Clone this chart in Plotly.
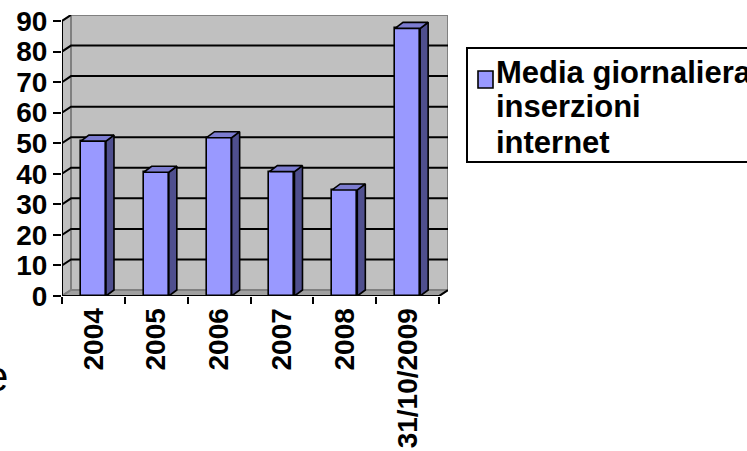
import plotly.graph_objects as go

# ---- data ----
categories = ["2004", "2005", "2006", "2007", "2008", "31/10/2009"]
values = [50.7, 40.5, 51.8, 40.7, 34.7, 87.6]
y_ticks = [0, 10, 20, 30, 40, 50, 60, 70, 80, 90]
legend_lines = ["Media giornaliera", "inserzioni", "internet"]

# ---- geometry / style (screen pixels) ----
W, H = 747, 451
L = 62                # front y-axis
FRONT_W = 377         # width of front plane
ZERO_Y = 296          # value 0 on front plane
TOP_Y = 21            # value 90 on front plane
DX, DY = 9, 6         # wall depth offset in px
BAR_DX, BAR_DY = 8, 6
YMAX = 90
n = len(categories)

px_cat = FRONT_W / n
px_val = (ZERO_Y - TOP_Y) / YMAX
dxu = DX / px_cat
dyu = DY / px_val
bdxu = BAR_DX / px_cat
bdyu = BAR_DY / px_val

x0, x1 = -0.5, n - 0.5
xr = [x0, x1 + dxu]
yr = [0, YMAX + dyu]
PW = FRONT_W + DX
T = TOP_Y - DY
B = H - ZERO_Y
R = W - L - PW
PH = ZERO_Y - T

def px_x(px):  # screen px -> paper
    return (px - L) / PW

def px_y(py):
    return (ZERO_Y - py) / PH

FRONT = "#9999FF"
SIDE = "#4F4F8E"
TOPC = "#7C7CD0"
WALL = "#C0C0C0"
FLOOR = "#A0A0A0"
EDGE = "#808080"
FONT = "Liberation Sans, Arial, sans-serif"

fig = go.Figure()
xs = list(range(n))
bw = 0.4

fig.add_trace(go.Bar(x=xs, y=values, width=bw, marker=dict(color=FRONT, line=dict(color="black", width=1.6)),
                     showlegend=False, hoverinfo="skip"))

# bar side and top faces
for i, v in enumerate(values):
    xl, xrt = i - bw / 2, i + bw / 2
    fig.add_trace(go.Scatter(x=[xrt, xrt + bdxu, xrt + bdxu, xrt, xrt], y=[0, bdyu, v + bdyu, v, 0],
                             fill="toself", fillcolor=SIDE, mode="lines",
                             line=dict(color="black", width=1.6), showlegend=False, hoverinfo="skip"))
    fig.add_trace(go.Scatter(x=[xl, xrt, xrt + bdxu, xl + bdxu, xl], y=[v, v, v + bdyu, v + bdyu, v],
                             fill="toself", fillcolor=TOPC, mode="lines",
                             line=dict(color="black", width=1.6), showlegend=False, hoverinfo="skip"))

shapes = []
# back wall
shapes.append(dict(type="rect", xref="x", yref="y", x0=x0 + dxu, x1=x1 + dxu, y0=dyu, y1=YMAX + dyu,
                   fillcolor=WALL, line=dict(color=EDGE, width=2), layer="below"))
# side wall
shapes.append(dict(type="path", xref="x", yref="y",
                   path=f"M{x0},0 L{x0},{YMAX} L{x0+dxu},{YMAX+dyu} L{x0+dxu},{dyu} Z",
                   fillcolor=WALL, line=dict(color=EDGE, width=2), layer="below"))
# floor
shapes.append(dict(type="path", xref="x", yref="y",
                   path=f"M{x0},0 L{x1},0 L{x1+dxu},{dyu} L{x0+dxu},{dyu} Z",
                   fillcolor=FLOOR, line=dict(color=EDGE, width=2), layer="below"))
# gridlines
for t in y_ticks[1:-1]:
    shapes.append(dict(type="path", xref="x", yref="y",
                       path=f"M{x0},{t} L{x0+dxu},{t+dyu} L{x1+dxu},{t+dyu}",
                       line=dict(color="black", width=2), layer="below"))
shapes.append(dict(type="line", xref="x", yref="y", x0=x0, y0=YMAX, x1=x0 + dxu, y1=YMAX + dyu,
                   line=dict(color="black", width=2), layer="below"))
# axis lines
shapes.append(dict(type="line", xref="x", yref="y", x0=x0, y0=0, x1=x0, y1=YMAX,
                   line=dict(color="black", width=2), layer="above"))
shapes.append(dict(type="path", xref="x", yref="y", path=f"M{x0},0 L{x1},0 L{x1+dxu},{dyu}",
                   line=dict(color="black", width=2), layer="above"))

# legend box and swatch
shapes.append(dict(type="rect", xref="paper", yref="paper", x0=px_x(467), x1=px_x(800), y0=px_y(162), y1=px_y(48),
                   fillcolor="white", line=dict(color="black", width=2)))
shapes.append(dict(type="rect", xref="paper", yref="paper", x0=px_x(478), x1=px_x(493), y0=px_y(88), y1=px_y(71),
                   fillcolor=FRONT, line=dict(color="black", width=1.6)))

annotations = []
line_y = [72, 107, 142]
for txt, yy in zip(legend_lines, line_y):
    annotations.append(dict(xref="paper", yref="paper", x=px_x(495), y=px_y(yy), xanchor="left", yanchor="middle",
                            text=f"<b>{txt}</b>", align="left", showarrow=False, borderpad=0,
                            font=dict(family=FONT, size=31, color="black")))
annotations.append(dict(xref="paper", yref="paper", x=px_x(9), y=px_y(376), xanchor="right", yanchor="middle",
                        text="e", showarrow=False, borderpad=0,
                        font=dict(family=FONT, size=42, color="black")))

fig.update_layout(
    width=W, height=H,
    margin=dict(l=L, r=R, t=T, b=B, pad=0, autoexpand=False),
    paper_bgcolor="white", plot_bgcolor="rgba(0,0,0,0)",
    shapes=shapes, annotations=annotations, showlegend=False,
    bargap=0,
    xaxis=dict(range=xr, tickvals=xs, ticktext=[f"<b>{c}</b>" for c in categories], tickangle=-90,
               ticks="outside", ticklen=0, tickcolor="rgba(0,0,0,0)", showgrid=False, zeroline=False,
               showline=False, tickfont=dict(family=FONT, size=28, color="black"), automargin=False,
               ticklabeloverflow="allow",
               minor=dict(tickvals=[i - 0.5 for i in range(n + 1)], ticks="outside", ticklen=7,
                          tickwidth=2, tickcolor="black", showgrid=False),
               fixedrange=True),
    yaxis=dict(range=yr, tickvals=y_ticks, ticktext=[f"<b>{t}</b>" for t in y_ticks],
               ticks="outside", ticklen=8, tickwidth=2, tickcolor="black", showgrid=False, zeroline=False,
               showline=False, tickfont=dict(family=FONT, size=28, color="black"), automargin=False,
               ticklabeloverflow="allow", fixedrange=True),
)

fig.write_html("out.html", config={"displayModeBar": False},
               post_script="document.body.style.margin='0';document.body.style.overflow='hidden';")
